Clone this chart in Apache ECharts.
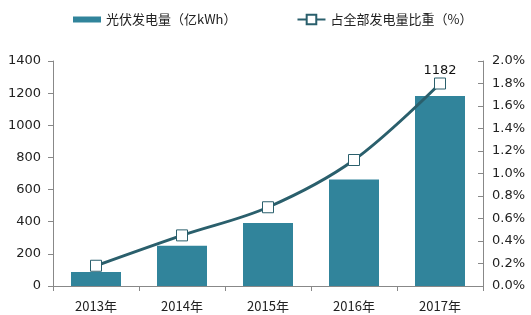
<!DOCTYPE html>
<html><head><meta charset="utf-8">
<script src="https://cdn.jsdelivr.net/npm/echarts@6/dist/echarts.min.js"></script>
<style>html,body{margin:0;padding:0;background:#fff;}#c{width:531px;height:315px;}</style>
</head><body><div id="c"></div>
<script>
const categories = ['2013年','2014年','2015年','2016年','2017年'];
const generation = [87, 250, 392, 662, 1182];
const share = [0.18, 0.45, 0.70, 1.12, 1.80];
const leftTicks = [0, 200, 400, 600, 800, 1000, 1200, 1400];
const rightTicks = [0, 0.2, 0.4, 0.6, 0.8, 1.0, 1.2, 1.4, 1.6, 1.8, 2.0];
const font = '"DejaVu Sans", "Noto Sans CJK SC", sans-serif';
const cjk = '"Noto Sans CJK SC", "Noto Sans", sans-serif';
const chart = echarts.init(document.getElementById('c'));
chart.setOption({
  animation: false,
  textStyle: {fontFamily: cjk},
  legend: {
    top: 8, left: 68, itemGap: 60, itemWidth: 28, itemHeight: 12,
    textStyle: {fontSize: 13, color: '#222', fontFamily: cjk},
    data: [
      {name: '光伏发电量（亿kWh）', icon: 'path://M0,3h28v6h-28z'},
      {name: '占全部发电量比重（%）'}
    ]
  },
  grid: {left: 53, right: 48, top: 61, bottom: 29},
  xAxis: {
    type: 'category', data: categories,
    axisLine: {lineStyle: {color: '#888'}},
    axisTick: {show: true, length: 5, lineStyle: {color: '#888'}},
    axisLabel: {fontSize: 13, color: '#222', margin: 14, fontFamily: cjk}
  },
  yAxis: [
    {type: 'value', min: leftTicks[0], max: leftTicks[leftTicks.length-1], interval: 200,
     splitLine: {show: false},
     axisLine: {show: true, lineStyle: {color: '#888'}},
     axisTick: {show: true, length: 5, lineStyle: {color: '#888'}},
     axisLabel: {fontSize: 13, color: '#222', margin: 12, fontFamily: font, formatter: v => String(v)}},
    {type: 'value', min: rightTicks[0], max: rightTicks[rightTicks.length-1], interval: 0.2,
     splitLine: {show: false},
     axisLine: {show: true, lineStyle: {color: '#888'}},
     axisTick: {show: true, inside: true, length: 5, lineStyle: {color: '#888'}},
     axisLabel: {fontSize: 13, color: '#222', margin: 9, fontFamily: font,
       formatter: v => v.toFixed(1) + '%'}}
  ],
  series: [
    {name: '光伏发电量（亿kWh）', type: 'bar', data: generation, barWidth: 50,
     itemStyle: {color: '#31849B'},
     label: {show: true, position: 'top', distance: 19, fontSize: 13, color: '#111', fontFamily: font,
       formatter: p => p.dataIndex === generation.length - 1 ? String(p.value) : ''}},
    {name: '占全部发电量比重（%）', type: 'line', yAxisIndex: 1, data: share, smooth: 0.35,
     symbol: 'rect', symbolSize: 11,
     lineStyle: {color: '#2A5F6C', width: 3},
     itemStyle: {color: '#fff', borderColor: '#2A5F6C', borderWidth: 1}}
  ]
});
</script></body></html>
